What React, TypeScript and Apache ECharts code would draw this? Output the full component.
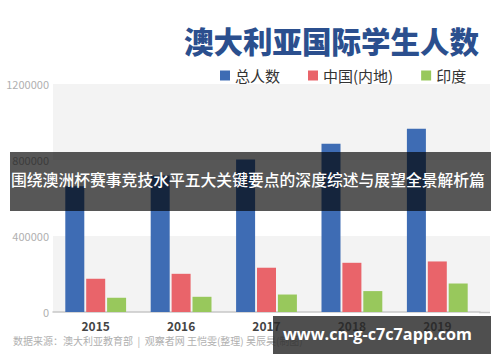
import React, { useEffect, useRef } from "react";
import * as echarts from "echarts";

const years = ["2015", "2016", "2017", "2018", "2019"];
const totalStudents = [662000, 718000, 803000, 885000, 964000];
const chinaStudents = [175000, 201000, 233000, 259000, 266000];
const indiaStudents = [75000, 80000, 92000, 110000, 150000];
const yTicks = [0, 400000, 800000, 1200000];

const titleText = "澳大利亚国际学生人数";
const seriesNames = ["总人数", "中国(内地)", "印度"];
const sourceText = "数据来源：澳大利亚教育部  |  观察者网 王恺雯(整理) 吴辰昊(制图)";
const bannerText = "围绕澳洲杯赛事竞技水平五大关键要点的深度综述与展望全景解析篇";
const watermarkText = "www.cn-g-c7c7app.com";

const FONT = "'Noto Sans CJK SC', 'Noto Sans', sans-serif";

export default function App() {
  const ref = useRef<HTMLDivElement>(null);
  useEffect(() => {
    if (!ref.current) return;
    const chart = echarts.init(ref.current, undefined, { renderer: "svg" });
    chart.setOption({
      animation: false,
      backgroundColor: "#ffffff",
      textStyle: { fontFamily: FONT },
      title: {
        text: titleText,
        left: 179,
        top: 20,
        textStyle: { fontSize: 29.5, fontWeight: 900, color: "#2b4f8e", fontFamily: FONT },
      },
      legend: {
        left: 215,
        top: 63,
        itemWidth: 10,
        itemHeight: 10,
        itemGap: 28,
        icon: "rect",
        textStyle: { fontSize: 15, color: "#333", fontFamily: FONT },
        data: seriesNames,
      },
      grid: { left: 53, right: 20, top: 84, bottom: 50 },
      xAxis: {
        type: "category",
        data: years,
        axisTick: { show: false },
        axisLine: { lineStyle: { color: "#c8c8c8", width: 1.5 } },
        axisLabel: { fontSize: 12, fontWeight: "bold", color: "#444", margin: 7, fontFamily: FONT },
      },
      yAxis: {
        type: "value",
        min: yTicks[0],
        max: yTicks[yTicks.length - 1],
        interval: 400000,
        splitLine: { show: false },
        splitArea: { show: true, areaStyle: { color: ["#f3f3f3", "#ffffff"] } },
        axisLabel: { fontSize: 11, color: "#b0b0b0", margin: 4, fontFamily: FONT, formatter: (v: number) => String(v) },
      },
      series: [
        { name: seriesNames[0], type: "bar", data: totalStudents, barWidth: 19, barGap: "10%", itemStyle: { color: "#3e6cb4" } },
        { name: seriesNames[1], type: "bar", data: chinaStudents, barWidth: 19, barGap: "10%", itemStyle: { color: "#e9646a" } },
        { name: seriesNames[2], type: "bar", data: indiaStudents, barWidth: 19, barGap: "10%", itemStyle: { color: "#98c85c" } },
      ],
      graphic: [
        { type: "rect", left: 480, top: 84, shape: { width: 10, height: 76 }, style: { fill: "#f3f3f3" }, z: 0 },
        { type: "rect", left: 480, top: 236, shape: { width: 10, height: 76 }, style: { fill: "#f3f3f3" }, z: 0 },
        { type: "line", shape: { x1: 479, y1: 312.5, x2: 490, y2: 312.5 }, style: { stroke: "#c8c8c8", lineWidth: 1.5 }, z: 0 },
        {
          type: "text",
          left: 13,
          top: 335,
          style: { text: sourceText, fontSize: 10, fill: "#b0b0b0", fontFamily: FONT },
        },
        {
          type: "rect",
          left: 10,
          top: 152,
          shape: { width: 481, height: 59 },
          style: { fill: "rgba(0,0,0,0.66)" },
          z: 100,
        },
        {
          type: "text",
          left: 11,
          top: 172,
          style: { text: bannerText, fontSize: 15.8, fill: "#ffffff", fontFamily: FONT, fontWeight: 500 },
          z: 101,
        },
        {
          type: "rect",
          left: 273,
          top: 316,
          shape: { width: 218, height: 38 },
          style: { fill: "rgba(40,40,40,0.82)" },
          z: 100,
        },
        {
          type: "text",
          left: 283,
          top: 326,
          style: { text: watermarkText, fontSize: 16.2, fontWeight: "bold", fill: "#ffffff", fontFamily: "'Open Sans', 'Noto Sans', sans-serif" },
          z: 101,
        },
      ],
    });
    return () => chart.dispose();
  }, []);
  return <div ref={ref} style={{ width: 500, height: 362, position: "absolute", left: 0, top: 0 }} />;
}
